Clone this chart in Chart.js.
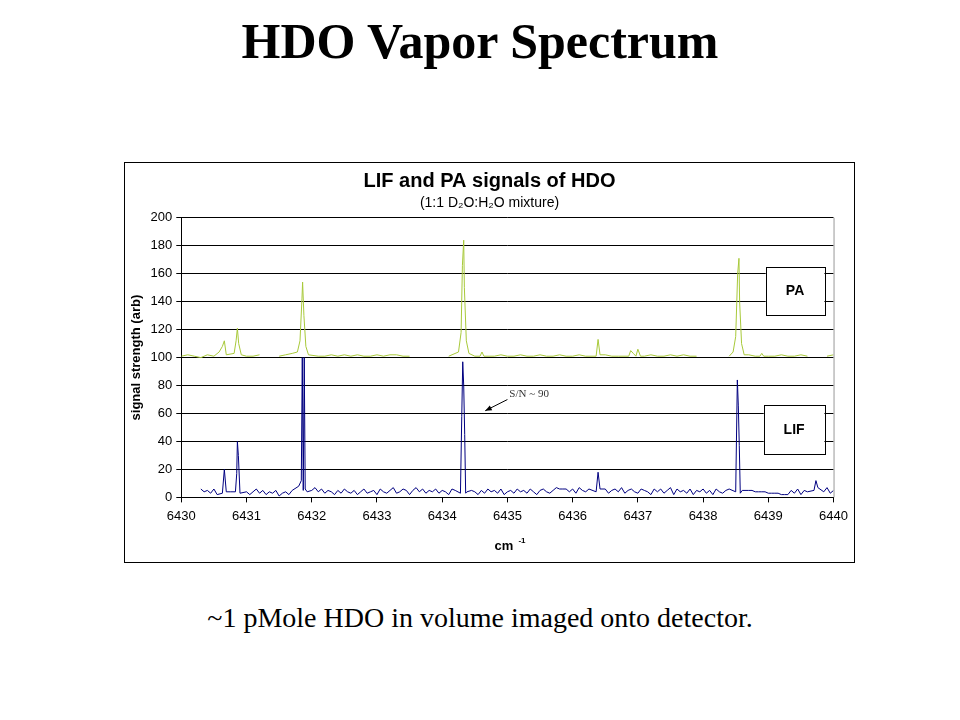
<!DOCTYPE html>
<html>
<head>
<meta charset="utf-8">
<script src="https://cdn.jsdelivr.net/npm/chart.js@4"></script>
<style>
  body { margin: 0; width: 960px; height: 720px; background: #fff; position: relative; overflow: hidden; }
  h1 { position: absolute; top: 12px; left: 0; width: 960px; margin: 0; text-align: center;
       font: bold 50px "Liberation Serif", serif; color: #000; }
  .box { position: absolute; left: 124px; top: 162px; width: 731px; height: 401px; border: 1px solid #000; box-sizing: border-box; }
  .foot { position: absolute; top: 602px; left: 0; width: 960px; text-align: center;
          font: 28px "Liberation Serif", serif; color: #000; }
</style>
</head>
<body>
<h1>HDO Vapor Spectrum</h1>
<div class="box"><canvas id="myChart" width="729" height="399"></canvas></div>
<div class="foot">~1 pMole HDO in volume imaged onto detector.</div>
<script>
// PA baseline segments (cm-1 start, step 0.1)
const paSegStart = [6430.0, 6431.5, 6434.1, 6438.4, 6439.9];
const paSegValues = [
    [101, 102, 101, 100, 102, 101, 103, 102, 101, 102, 101, 101, 102],
    [101, 102, 103, 102, 101, 102, 101, 101, 102, 101, 102, 101, 102, 101, 101, 102, 101, 102, 102, 101, 101],
    [101, 102, 101, 102, 101, 101, 102, 101, 102, 101, 101, 102, 101, 101, 102, 101, 101, 102, 101, 101,
     102, 101, 102, 101, 102, 101, 101, 102, 103, 101, 101, 102, 101, 101, 102, 101, 102, 101, 101],
    [101, 102, 101, 102, 101, 102, 101, 101, 102, 101, 101, 102, 101],
    [101, 102]
];
const paGaps = [6431.35, 6433.8, 6438.15, 6439.75];
const paPeakX = [6430.58, 6430.63, 6430.66, 6430.69, 6430.81, 6430.84, 6430.86, 6430.88, 6430.92,
                 6431.78, 6431.82, 6431.85, 6431.86, 6431.88, 6431.91, 6431.95,
                 6434.25, 6434.29, 6434.31, 6434.33, 6434.34, 6434.37, 6434.41, 6434.58, 6434.61, 6434.64,
                 6436.36, 6436.39, 6436.42, 6436.86, 6436.89, 6436.93, 6436.97, 6437.0, 6437.04,
                 6438.46, 6438.50, 6438.53, 6438.55, 6438.56, 6438.59, 6438.63, 6438.87, 6438.9, 6438.93];
const paPeakY = [104, 108, 112, 102, 103, 112, 121, 110, 102,
                 104, 112, 142, 154, 130, 108, 102,
                 104, 118, 166, 184, 150, 112, 103, 101, 104, 101,
                 101, 113, 102, 101, 105, 103, 101, 106, 101,
                 104, 115, 160, 171, 140, 110, 102, 101, 103, 101];

// LIF baseline noise (cm-1 start 6430.30, step 0.05, one row = 1 cm-1)
const lifStart = 6430.30;
const lifNoise = [6, 4, 5, 3, 6, 2, 4, 5, 3, 4, 2, 5, 6, 3, 4, 2, 4, 6, 3, 5,
                  2, 4, 3, 5, 1, 3, 4, 2, 5, 3, 6, 4, 2, 3, 5, 7, 4, 6, 3, 5,
                  4, 2, 5, 3, 6, 4, 3, 5, 2, 4, 6, 3, 4, 5, 2, 6, 4, 3, 5, 7,
                  3, 4, 6, 5, 2, 5, 7, 4, 6, 3, 5, 4, 6, 3, 5, 4, 2, 6, 5, 3,
                  4, 6, 3, 5, 4, 2, 5, 3, 6, 4, 5, 3, 6, 2, 4, 5, 3, 6, 4, 5,
                  3, 6, 4, 2, 5, 6, 4, 3, 5, 7, 6, 6, 6, 4, 6, 3, 7, 5, 4, 6,
                  3, 5, 7, 4, 6, 3, 5, 6, 4, 7, 3, 5, 6, 4, 3, 6, 5, 4, 2, 6,
                  4, 6, 3, 5, 7, 2, 6, 4, 5, 3, 6, 2, 5, 4, 6, 3, 5, 2, 6, 4,
                  3, 5, 6, 4, 2, 6, 4, 5, 5, 5, 4, 4, 4, 4, 3, 3, 3, 3, 2, 2,
                  2, 5, 3, 6, 2, 5, 4, 3, 6, 2, 5, 4, 7, 3, 5];
const lifPeakX = [6430.63, 6430.66, 6430.69, 6430.83, 6430.85, 6430.86, 6430.875, 6430.90,
                  6431.80, 6431.84, 6431.855, 6431.87, 6431.885, 6431.90, 6431.93,
                  6434.28, 6434.30, 6434.315, 6434.33, 6434.345, 6434.36, 6434.38,
                  6436.36, 6436.39, 6436.42,
                  6438.50, 6438.525, 6438.54, 6438.555, 6438.57, 6438.60,
                  6439.70, 6439.73, 6439.76];
const lifPeakY = [3, 20, 4, 4, 17, 40, 30, 3,
                  8, 12, 100, 5, 100, 6, 4,
                  3, 58, 97, 80, 45, 3, 4,
                  4, 18, 6,
                  4, 84, 66, 37, 3, 5,
                  5, 12, 7];

const xTicks = [6430, 6431, 6432, 6433, 6434, 6435, 6436, 6437, 6438, 6439, 6440];

function nearPeak(x, peaks) {
    return peaks.some(p => Math.abs(p - x) < 0.06);
}

let paData = [];
paSegStart.forEach((s, i) => {
    paSegValues[i].forEach((v, j) => {
        let x = +(s + j * 0.1).toFixed(3);
        if (!nearPeak(x, paPeakX)) paData.push({ x: x, y: v });
    });
});
paPeakX.forEach((x, i) => paData.push({ x: x, y: paPeakY[i] }));
paGaps.forEach(x => paData.push({ x: x, y: null }));
paData.sort((a, b) => a.x - b.x);

let lifData = [];
lifNoise.forEach((v, j) => {
    let x = +(lifStart + j * 0.05).toFixed(3);
    if (!nearPeak(x, lifPeakX)) lifData.push({ x: x, y: v });
});
lifPeakX.forEach((x, i) => lifData.push({ x: x, y: lifPeakY[i] }));
lifData.sort((a, b) => a.x - b.x);

// boxes, arrow and label drawn in data coordinates
const notes = {
    id: 'notes',
    afterDatasetsDraw(chart) {
        const ctx = chart.ctx, xs = chart.scales.x, ys = chart.scales.y;
        ctx.save();
        ctx.strokeStyle = '#999';
        ctx.lineWidth = 1;
        ctx.beginPath();
        ctx.moveTo(chart.chartArea.right + 0.5, chart.chartArea.top);
        ctx.lineTo(chart.chartArea.right + 0.5, chart.chartArea.bottom);
        ctx.stroke();
        const boxes = [['PA', 6438.96, 165, 131], ['LIF', 6438.93, 66, 31]];
        boxes.forEach(b => {
            let x1 = xs.getPixelForValue(b[1]), x2 = xs.getPixelForValue(6439.86);
            let y1 = ys.getPixelForValue(b[2]), y2 = ys.getPixelForValue(b[3]);
            ctx.fillStyle = '#fff';
            ctx.fillRect(x1, y1, x2 - x1, y2 - y1);
            ctx.strokeStyle = '#000';
            ctx.strokeRect(Math.round(x1) + 0.5, Math.round(y1) + 0.5, Math.round(x2 - x1), Math.round(y2 - y1));
            ctx.fillStyle = '#000';
            ctx.font = 'bold 14px "Liberation Sans", Arial';
            ctx.textAlign = 'center';
            ctx.textBaseline = 'middle';
            ctx.fillText(b[0], (x1 + x2) / 2, (y1 + y2) / 2 + 1);
        });
        ctx.fillStyle = '#333';
        ctx.font = '11px "Liberation Serif", serif';
        ctx.textAlign = 'left';
        ctx.textBaseline = 'alphabetic';
        ctx.fillText('S/N ~ 90', xs.getPixelForValue(6435.03), ys.getPixelForValue(72));
        let ax = xs.getPixelForValue(6435.0), ay = ys.getPixelForValue(70);
        let bx = xs.getPixelForValue(6434.66), by = ys.getPixelForValue(62);
        ctx.strokeStyle = '#000';
        ctx.beginPath();
        ctx.moveTo(ax, ay);
        ctx.lineTo(bx, by);
        ctx.stroke();
        let ang = Math.atan2(by - ay, bx - ax);
        ctx.fillStyle = '#000';
        ctx.beginPath();
        ctx.moveTo(bx, by);
        ctx.lineTo(bx - 7 * Math.cos(ang - 0.4), by - 7 * Math.sin(ang - 0.4));
        ctx.lineTo(bx - 7 * Math.cos(ang + 0.4), by - 7 * Math.sin(ang + 0.4));
        ctx.closePath();
        ctx.fill();
        // x axis title with superscript
        let cx = (chart.chartArea.left + chart.chartArea.right) / 2 - 5;
        ctx.fillStyle = '#000';
        ctx.font = 'bold 13px "Liberation Sans", Arial';
        ctx.textAlign = 'left';
        ctx.fillText('cm', cx - 8, chart.chartArea.bottom + 53);
        ctx.font = 'bold 8px "Liberation Sans", Arial';
        ctx.fillText('-1', cx + 16, chart.chartArea.bottom + 46);
        ctx.restore();
    }
};

document.addEventListener("DOMContentLoaded", function () {
    new Chart("myChart", {
        type: "line",
        data: {
            datasets: [{
                data: paData,
                borderColor: "#a8c93a",
                borderWidth: 1,
                pointRadius: 0,
                tension: 0,
                spanGaps: false
            }, {
                data: lifData,
                borderColor: "#000080",
                borderWidth: 1,
                pointRadius: 0,
                tension: 0
            }]
        },
        options: {
            responsive: false,
            animation: false,
            layout: { padding: { left: 0, right: 0, top: 0, bottom: 32 } },
            plugins: {
                legend: { display: false },
                tooltip: { enabled: false },
                title: {
                    display: true,
                    text: 'LIF and PA signals of HDO',
                    color: '#000',
                    font: { family: '"Liberation Sans", Arial', size: 20, weight: 'bold' },
                    padding: { top: 6, bottom: 2 }
                },
                subtitle: {
                    display: true,
                    text: '(1:1 D\u2082O:H\u2082O mixture)',
                    color: '#000',
                    font: { family: '"Liberation Sans", Arial', size: 14 },
                    padding: { bottom: 6 }
                }
            },
            scales: {
                x: {
                    type: 'linear',
                    min: 6430, max: 6440,
                    afterBuildTicks: axis => { axis.ticks = xTicks.map(v => ({ value: v })); },
                    grid: { drawOnChartArea: false, drawTicks: true, tickLength: 5, color: '#000' },
                    border: { color: '#000' },
                    ticks: { color: '#000', font: { family: '"Liberation Sans", Arial', size: 13 }, maxRotation: 0, padding: 6,
                             callback: v => String(v) }
                },
                y: {
                    min: 0, max: 200,
                    grid: { color: '#000', tickLength: 5 },
                    border: { color: '#000' },
                    ticks: { stepSize: 20, color: '#000', font: { family: '"Liberation Sans", Arial', size: 13 }, padding: 4 },
                    title: {
                        display: true,
                        text: 'signal strength (arb)',
                        color: '#000',
                        font: { family: '"Liberation Sans", Arial', size: 13, weight: 'bold' },
                        padding: { top: 4, bottom: 2 }
                    }
                }
            }
        },
        plugins: [notes]
    });
});
</script>
</body>
</html>
